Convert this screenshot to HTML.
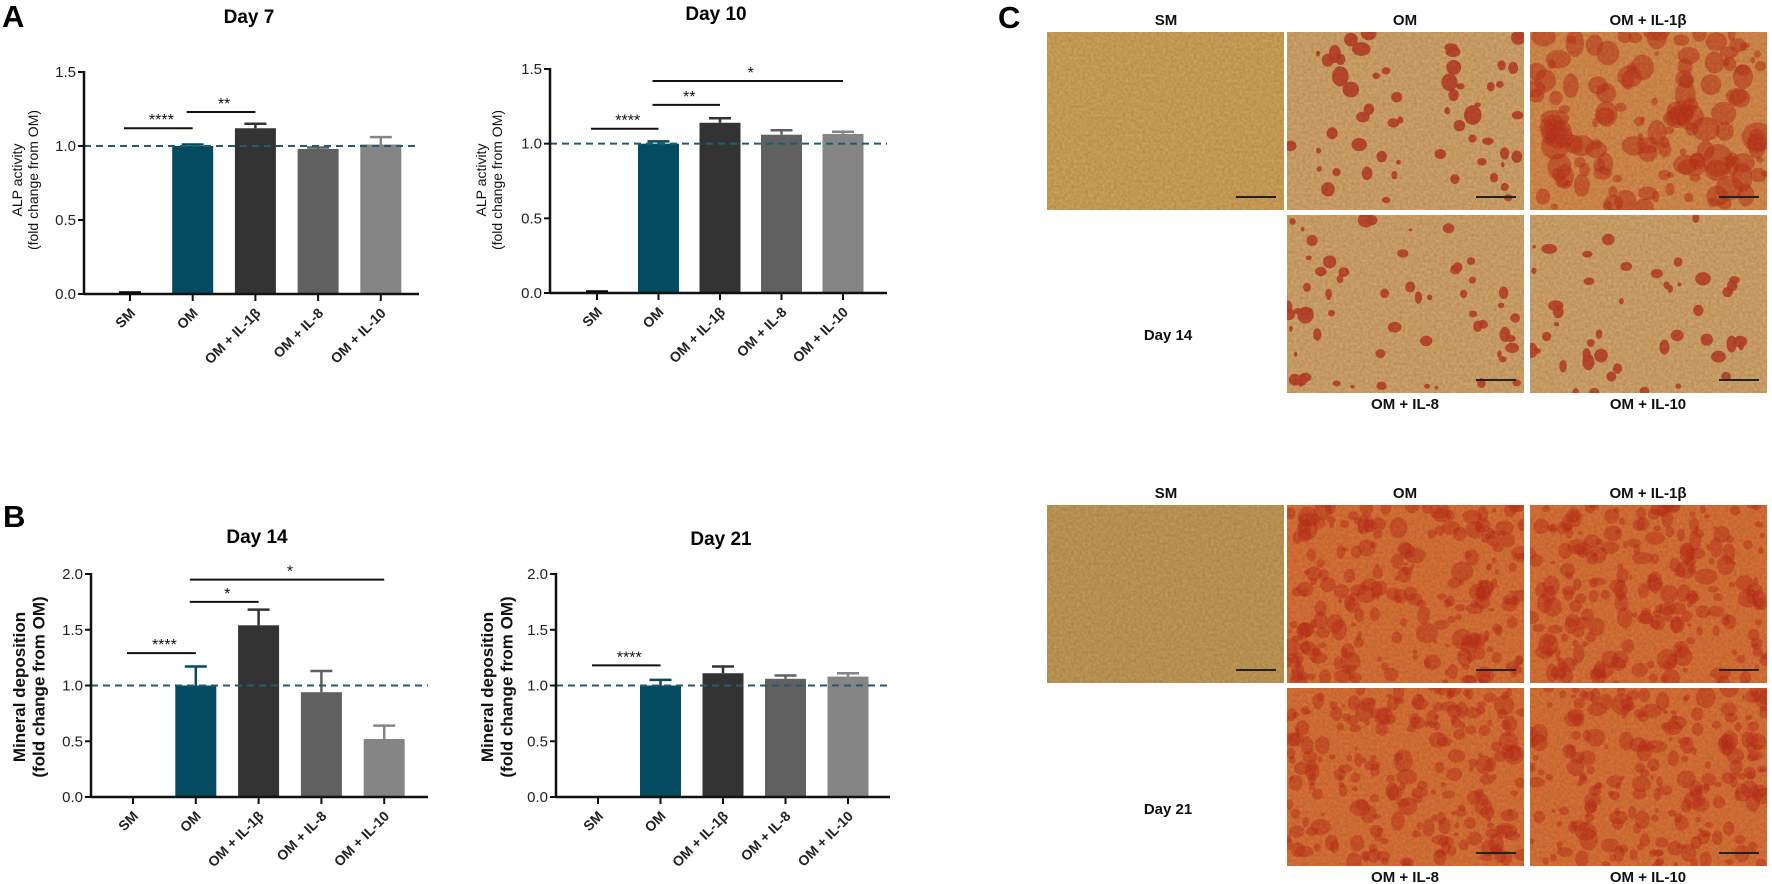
<!DOCTYPE html>
<html><head><meta charset="utf-8">
<style>
html,body{margin:0;padding:0;background:#fff;}
svg{display:block;font-family:"Liberation Sans",sans-serif;}
</style></head>
<body>
<svg id="fig" width="1772" height="884" viewBox="0 0 1772 884" xmlns="http://www.w3.org/2000/svg">
<defs>
<filter id="grain" x="0" y="0" width="100%" height="100%">
<feTurbulence type="fractalNoise" baseFrequency="0.35" numOctaves="2" seed="3" result="n"/>
<feColorMatrix in="n" type="matrix" values="0 0 0 0 0  0 0 0 0 0  0 0 0 0 0  0 0 0 0.35 0"/>
</filter>
</defs>
<text x="2" y="27" font-size="31" font-weight="bold">A</text>
<text x="3" y="527" font-size="31" font-weight="bold">B</text>
<text x="998" y="28" font-size="31" font-weight="bold">C</text>
<g id="charts"></g>
<g id="micro"></g>
</svg>
<script>
// ---- chart data ----
const categories = ["SM","OM","OM + IL-1β","OM + IL-8","OM + IL-10"];
const day7Values = [0.005, 1.00, 1.12, 0.98, 1.01];
const day7Errors = [0.005, 0.01, 0.03, 0.01, 0.05];
const day10Values = [0.005, 1.00, 1.14, 1.06, 1.065];
const day10Errors = [0.005, 0.015, 0.03, 0.03, 0.015];
const day14Values = [0, 1.00, 1.54, 0.94, 0.52];
const day14Errors = [0, 0.17, 0.14, 0.19, 0.12];
const day21Values = [0, 1.00, 1.11, 1.06, 1.08];
const day21Errors = [0, 0.05, 0.06, 0.03, 0.03];
const alpTicks = [0, 0.5, 1.0, 1.5];
const minTicks = [0, 0.5, 1.0, 1.5, 2.0];
const day7Sig = [[0,1,1.12,"****"],[1,2,1.23,"**"]];
const day10Sig = [[0,1,1.10,"****"],[1,2,1.26,"**"],[1,4,1.42,"*"]];
const day14Sig = [[0,1,1.29,"****"],[1,2,1.75,"*"],[1,4,1.95,"*"]];
const day21Sig = [[0,1,1.18,"****"]];

const NS = "http://www.w3.org/2000/svg";
const barColors = ["#ffffff","#044b5f","#333333","#606060","#858585"];
function mk(parent, tag, attrs, text){
  const e = document.createElementNS(NS, tag);
  for (const k in attrs) e.setAttribute(k, attrs[k]);
  if (text !== undefined) e.textContent = text;
  parent.appendChild(e);
  return e;
}
const charts = document.getElementById("charts");

function drawChart(opt){
  const g = mk(charts, "g", {});
  
  
  const y = v => opt.y0 - (v / opt.ymax) * (opt.y0 - opt.yTop);
  const x = i => opt.x0 + opt.firstOff + i * opt.step;
  const t = mk(g, "text", {x: opt.titleX, y: opt.titleY, "font-size": 19, "font-weight": "bold", "text-anchor": "middle"}, opt.title);
  
  
  opt.values.forEach((v, i) => {
    if (v > 0) {
      const top = y(v);
      const r = mk(g, "rect", {x: x(i) - opt.bw/2, y: top, width: opt.bw, height: opt.y0 - top, fill: barColors[i]});
      
      
      const e = opt.errors[i];
      if (e > 0) {
        const col = barColors[i] === "#ffffff" ? "#000" : barColors[i];
        mk(g, "line", {x1: x(i), x2: x(i), y1: top, y2: y(v + e), stroke: col, "stroke-width": 2.5});
        const cap = mk(g, "line", {x1: x(i) - 11, x2: x(i) + 11, y1: y(v + e), y2: y(v + e), stroke: col, "stroke-width": 2.5});
        
        
      }
    } else if (opt.showZero) {
      mk(g, "line", {x1: x(i) - 18, x2: x(i) + 18, y1: opt.y0 - 1, y2: opt.y0 - 1, stroke: "#222", "stroke-width": 2});
    }
  });
  const dl = mk(g, "line", {x1: opt.x0, x2: opt.xEnd, y1: y(1), y2: y(1), stroke: "#1e5d70", "stroke-width": 2, "stroke-dasharray": "7 5"});
  
  
  mk(g, "line", {x1: opt.x0, x2: opt.x0, y1: opt.yTop - 1, y2: opt.y0 + 1, stroke: "#111", "stroke-width": 2.5});
  const xa = mk(g, "line", {x1: opt.x0, x2: opt.xEnd, y1: opt.y0, y2: opt.y0, stroke: "#111", "stroke-width": 2.5});
  
  
  opt.ticks.forEach(tv => {
    mk(g, "line", {x1: opt.x0 - 6, x2: opt.x0, y1: y(tv), y2: y(tv), stroke: "#111", "stroke-width": 2});
    const tl = mk(g, "text", {x: opt.x0 - 8, y: y(tv) + 5, "font-size": 15, "text-anchor": "end", fill: "#222"}, tv.toFixed(1));
    
    
  });
  categories.forEach((c, i) => {
    mk(g, "line", {x1: x(i), x2: x(i), y1: opt.y0, y2: opt.y0 + 7, stroke: "#111", "stroke-width": 2});
    const lx = x(i) + 6, ly = opt.y0 + 20;
    const tl = mk(g, "text", {x: lx, y: ly, "font-size": 14, "font-weight": "bold", "text-anchor": "end", fill: "#222", transform: `rotate(-45 ${lx} ${ly})`}, c);
    
    
  });
  const cy = opt.yTitleCY;
  const yt = mk(g, "text", {x: 0, y: 0, "font-size": opt.yTitleSize, "font-weight": opt.yTitleWeight, "text-anchor": "middle", fill: "#111", transform: `translate(${opt.yTitleX} ${cy}) rotate(-90)`});
  
  
  mk(yt, "tspan", {x: 0, dy: 0}, opt.yTitle[0]);
  mk(yt, "tspan", {x: 0, dy: opt.yTitleSize * 1.15}, opt.yTitle[1]);
  opt.sig.forEach(s => {
    const yy = y(s[2]);
    const sl = mk(g, "line", {x1: x(s[0]) - 6, x2: x(s[1]), y1: yy, y2: yy, stroke: "#111", "stroke-width": 2});
    
    
    const st = mk(g, "text", {x: (x(s[0]) + x(s[1])) / 2, y: yy - 3, "font-size": 16, "text-anchor": "middle", fill: "#111"}, s[3]);
    
    
  });
}

drawChart({name:"chart-alp-day7", title:"Day 7", titleX:249, titleY:23, values:day7Values, errors:day7Errors,
  x0:84, xEnd:419, firstOff:46, step:62.7, bw:41, y0:294, yTop:72, ymax:1.5, ticks:alpTicks, sig:day7Sig, showZero:true,
  yTitle:["ALP activity","(fold change from OM)"], yTitleX:22, yTitleCY:180, yTitleSize:14, yTitleWeight:"normal"});
drawChart({name:"chart-alp-day10", title:"Day 10", titleX:716, titleY:20, values:day10Values, errors:day10Errors,
  x0:550, xEnd:887, firstOff:47, step:61.5, bw:41, y0:293, yTop:69, ymax:1.5, ticks:alpTicks, sig:day10Sig, showZero:true,
  yTitle:["ALP activity","(fold change from OM)"], yTitleX:486, yTitleCY:180, yTitleSize:14, yTitleWeight:"normal"});
drawChart({name:"chart-mineral-day14", title:"Day 14", titleX:257, titleY:543, values:day14Values, errors:day14Errors,
  x0:91, xEnd:428, firstOff:42, step:62.8, bw:41, y0:797, yTop:574, ymax:2.0, ticks:minTicks, sig:day14Sig, showZero:false,
  yTitle:["Mineral deposition","(fold change from OM)"], yTitleX:25, yTitleCY:687, yTitleSize:17, yTitleWeight:"bold"});
drawChart({name:"chart-mineral-day21", title:"Day 21", titleX:721, titleY:545, values:day21Values, errors:day21Errors,
  x0:556, xEnd:890, firstOff:42, step:62.5, bw:41, y0:797, yTop:574, ymax:2.0, ticks:minTicks, sig:day21Sig, showZero:false,
  yTitle:["Mineral deposition","(fold change from OM)"], yTitleX:493, yTitleCY:687, yTitleSize:17, yTitleWeight:"bold"});

// ---- micrographs (decorative) ----
const micro = document.getElementById("micro");
let seed = 12345;
function rnd(){ seed = (seed * 1103515245 + 12345) % 2147483648; return seed / 2147483648; }
let clipId = 0;
function micrograph(name, x, y, w, h, base, blobColor, nBlobs, rMin, rMax, blobOpacity){
  const g = mk(micro, "g", {});
  
  
  const id = "clip" + (clipId++);
  const cp = mk(g, "clipPath", {id: id});
  mk(cp, "rect", {x: x, y: y, width: w, height: h});
  const inner = mk(g, "g", {"clip-path": `url(#${id})`});
  mk(inner, "rect", {x: x, y: y, width: w, height: h, fill: base});
  for (let i = 0; i < nBlobs; i++) {
    const r = rMin + rnd() * (rMax - rMin);
    mk(inner, "ellipse", {cx: x + rnd() * w, cy: y + rnd() * h, rx: r * (0.7 + rnd() * 0.6), ry: r * (0.7 + rnd() * 0.6), fill: blobColor, opacity: blobOpacity});
  }
  mk(inner, "rect", {x: x, y: y, width: w, height: h, filter: "url(#grain)", opacity: 0.6});
  const sb = mk(g, "line", {x1: x + w - 48, x2: x + w - 8, y1: y + h - 13, y2: y + h - 13, stroke: "#222", "stroke-width": 2});
  
  
}
function label(txt, x, y, name){
  const t = mk(micro, "text", {x: x, y: y, "font-size": 15, "font-weight": "bold", "text-anchor": "middle", fill: "#111"}, txt);
  
  
}
const cx = [1047, 1287, 1530], W = 237;
label("SM", 1166, 25, "label-sm-day14"); label("OM", 1405, 25, "label-om-day14"); label("OM + IL-1β", 1648, 25, "label-il1b-day14");
micrograph("image-sm-day14", cx[0], 32, W, 178, "#d9a85c", "#b07030", 0, 1, 2, 0.5);
micrograph("image-om-day14", cx[1], 32, W, 178, "#dcac6e", "#c3422a", 55, 2, 8, 0.9);
micrograph("image-il1b-day14", cx[2], 32, W, 178, "#e0924f", "#c8381e", 140, 3, 13, 0.55);
micrograph("image-il8-day14", cx[1], 215, W, 178, "#dcac6e", "#c4452b", 60, 2, 7, 0.9);
micrograph("image-il10-day14", cx[2], 215, W, 178, "#dcac6e", "#c4452b", 45, 2, 7, 0.9);
label("Day 14", 1168, 340, "label-day14");
label("OM + IL-8", 1405, 409, "label-il8-day14"); label("OM + IL-10", 1648, 409, "label-il10-day14");
label("SM", 1166, 498, "label-sm-day21"); label("OM", 1405, 498, "label-om-day21"); label("OM + IL-1β", 1648, 498, "label-il1b-day21");
micrograph("image-sm-day21", cx[0], 505, W, 178, "#caa05a", "#9a7a40", 0, 1, 2, 0.5);
micrograph("image-om-day21", cx[1], 505, W, 178, "#e4773a", "#c8301a", 220, 2, 9, 0.45);
micrograph("image-il1b-day21", cx[2], 505, W, 178, "#e4773a", "#c8301a", 220, 2, 9, 0.45);
micrograph("image-il8-day21", cx[1], 688, W, 178, "#e4773a", "#c8301a", 220, 2, 9, 0.45);
micrograph("image-il10-day21", cx[2], 688, W, 178, "#e4773a", "#c8301a", 220, 2, 9, 0.45);
label("Day 21", 1168, 814, "label-day21");
label("OM + IL-8", 1405, 882, "label-il8-day21"); label("OM + IL-10", 1648, 882, "label-il10-day21");
</script>
</body></html>
